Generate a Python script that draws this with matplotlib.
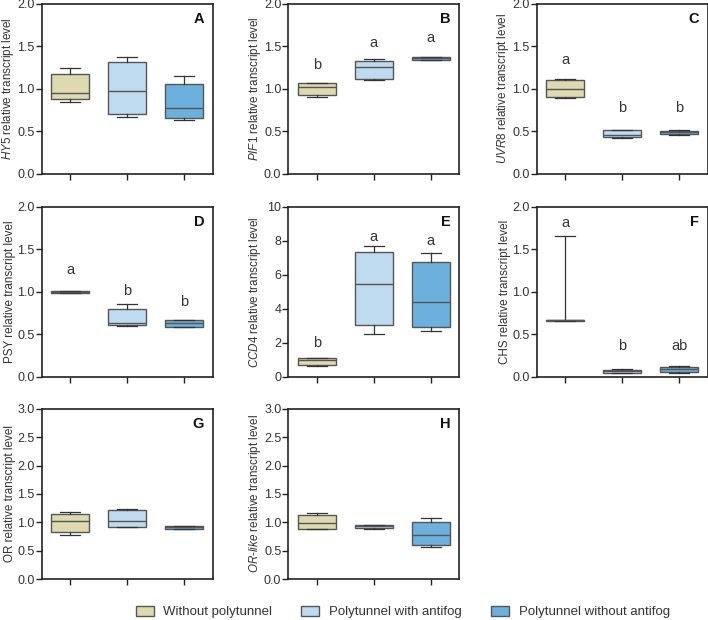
import numpy as np
import matplotlib
matplotlib.use('Agg')
import matplotlib.pyplot as plt
from matplotlib.patches import Patch

plt.rcParams['font.family'] = 'Liberation Sans'
plt.rcParams['mathtext.fontset'] = 'custom'
plt.rcParams['mathtext.it'] = 'Liberation Sans:italic'
plt.rcParams['mathtext.rm'] = 'Liberation Sans'

# treatments and colours
treatments = ['Without polytunnel', 'Polytunnel with antifog', 'Polytunnel without antifog']
colors = ['#ddd9b0', '#bfdbf0', '#6cb0dd']

# box stats per gene: (whisker low, q1, median, q3, whisker high) for each treatment
hy5 = [(0.85, 0.88, 0.95, 1.17, 1.25), (0.67, 0.70, 0.97, 1.31, 1.37), (0.63, 0.66, 0.78, 1.06, 1.15)]
pif1 = [(0.90, 0.93, 1.02, 1.065, 1.07), (1.10, 1.12, 1.26, 1.33, 1.35), (1.34, 1.34, 1.36, 1.37, 1.37)]
uvr8 = [(0.89, 0.90, 1.00, 1.11, 1.12), (0.42, 0.44, 0.46, 0.52, 0.52), (0.46, 0.47, 0.49, 0.51, 0.52)]
psy = [(0.99, 0.99, 1.00, 1.01, 1.01), (0.60, 0.61, 0.63, 0.80, 0.86), (0.59, 0.59, 0.63, 0.67, 0.67)]
ccd4 = [(0.65, 0.73, 0.98, 1.14, 1.14), (2.55, 3.04, 5.45, 7.33, 7.67), (2.71, 2.96, 4.41, 6.73, 7.31)]
chs = [(0.66, 0.66, 0.665, 0.67, 1.66), (0.05, 0.05, 0.07, 0.08, 0.09), (0.05, 0.06, 0.09, 0.12, 0.13)]
or_ = [(0.77, 0.83, 1.02, 1.15, 1.19), (0.92, 0.92, 1.02, 1.21, 1.24), (0.88, 0.89, 0.91, 0.93, 0.94)]
or_like = [(0.89, 0.89, 0.98, 1.13, 1.16), (0.89, 0.90, 0.93, 0.96, 0.96), (0.56, 0.60, 0.77, 1.00, 1.07)]

# significance letters and their heights
pif1_letters, pif1_ly = ['b', 'a', 'a'], [1.28, 1.54, 1.60]
uvr8_letters, uvr8_ly = ['a', 'b', 'b'], [1.34, 0.77, 0.77]
psy_letters, psy_ly = ['a', 'b', 'b'], [1.26, 1.01, 0.88]
ccd4_letters, ccd4_ly = ['b', 'a', 'a'], [2.0, 8.2, 7.96]
chs_letters, chs_ly = ['a', 'b', 'ab'], [1.81, 0.36, 0.36]

panels = [
    ('A', r'$\mathit{HY5}$ relative transcript level', hy5, None, None, 2.0, 0.5),
    ('B', r'$\mathit{PIF1}$ relative transcript level', pif1, pif1_letters, pif1_ly, 2.0, 0.5),
    ('C', r'$\mathit{UVR8}$ relative transcript level', uvr8, uvr8_letters, uvr8_ly, 2.0, 0.5),
    ('D', 'PSY relative transcript level', psy, psy_letters, psy_ly, 2.0, 0.5),
    ('E', r'$\mathit{CCD4}$ relative transcript level', ccd4, ccd4_letters, ccd4_ly, 10, 2),
    ('F', 'CHS relative transcript level', chs, chs_letters, chs_ly, 2.0, 0.5),
    ('G', 'OR relative transcript level', or_, None, None, 3.0, 0.5),
    ('H', r'$\mathit{OR}$-$\mathit{like}$ relative transcript level', or_like, None, None, 3.0, 0.5),
]

lefts = [0.0589, 0.4072, 0.758]
bottoms = [0.7194, 0.392, 0.0661]
w, h = 0.2415, 0.2745

fig = plt.figure(figsize=(7.08, 6.2), dpi=100)
edge = '#555555'
txt = '#333333'

for i, (tag, ylab, stats, lets, ly, ymax, step) in enumerate(panels):
    ax = fig.add_axes([lefts[i % 3], bottoms[i // 3], w, h])
    bx = [dict(whislo=s[0], q1=s[1], med=s[2], q3=s[3], whishi=s[4], fliers=[]) for s in stats]
    art = ax.bxp(bx, positions=[1, 2, 3], widths=0.66, patch_artist=True, showfliers=False,
                 boxprops=dict(edgecolor=edge, linewidth=1.0),
                 medianprops=dict(color=edge, linewidth=1.0),
                 whiskerprops=dict(color='#333333', linewidth=0.9),
                 capprops=dict(color='#333333', linewidth=0.9), capwidths=0.35)
    for b, c in zip(art['boxes'], colors):
        b.set_facecolor(c)
    if lets:
        for x, (l, y) in enumerate(zip(lets, ly)):
            ax.text(x + 1, y, l, ha='center', va='center', fontsize=10.5, color=txt)
    ax.set_xlim(0.5, 3.5)
    ax.set_ylim(0, ymax)
    ticks = np.arange(0, ymax + step / 2, step)
    ax.set_yticks(ticks)
    if step >= 1:
        ax.set_yticklabels(['%d' % t for t in ticks])
    else:
        ax.set_yticklabels(['%.1f' % t for t in ticks])
    ax.set_xticks([1, 2, 3])
    ax.set_xticklabels([])
    ax.tick_params(direction='out', length=4, width=1.0, colors='#222222', labelcolor=txt, labelsize=9)
    ax.tick_params(axis='y', pad=1)
    for sp in ax.spines.values():
        sp.set_linewidth(1.2)
        sp.set_color('#222222')
    ax.set_ylabel(ylab, fontsize=8.4, color=txt)
    ax.yaxis.set_label_coords(-0.15, 0.5)
    ax.text(0.95, 0.95, tag, transform=ax.transAxes, ha='right', va='top',
            fontsize=10.5, fontweight='bold', color='#111111')

handles = [Patch(facecolor=c, edgecolor=edge, linewidth=1.0) for c in colors]
fig.legend(handles, treatments, loc='center', bbox_to_anchor=(0.569, 0.013), ncol=3,
           frameon=False, fontsize=9.5, handlelength=1.36, handleheight=0.8,
           columnspacing=2.2, handletextpad=0.75, labelcolor=txt)

fig.savefig('out.png', dpi=100)
